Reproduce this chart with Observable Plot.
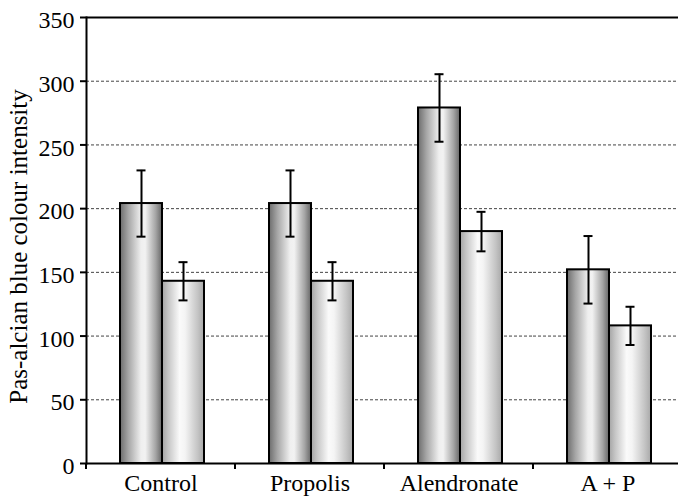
<!DOCTYPE html>
<html><head><meta charset="utf-8">
<script src="https://cdn.jsdelivr.net/npm/d3@7"></script>
<script src="https://cdn.jsdelivr.net/npm/@observablehq/plot@0.6"></script>
<style>body{margin:0;background:#fff;overflow:hidden}</style>
</head><body><div id="chart"></div>
<script>
const categories = ["Control", "Propolis", "Alendronate", "A + P"];
const series = ["Series 1", "Series 2"];
const series1Values = [204, 204, 279, 152];
const series1Errors = [26, 26, 26.5, 26.5];
const series2Values = [143, 143, 182, 108];
const series2Errors = [15, 15, 15.5, 15];
const yTicks = [0, 50, 100, 150, 200, 250, 300, 350];
const gridTicks = [50, 100, 150, 200, 250, 300];
const yLabel = "Pas-alcian blue colour intensity";

const data = categories.flatMap((c, i) => [
  {category: c, series: series[0], value: series1Values[i], err: series1Errors[i]},
  {category: c, series: series[1], value: series2Values[i], err: series2Errors[i]}
]);
data.forEach(d => { d.lo = d.value - d.err; d.hi = d.value + d.err; });

const boundaryTicks = (index, scales, values, dims) => {
  const y0 = scales.y(0);
  const g = d3.create("svg:g");
  g.append("line").attr("x1", dims.marginLeft).attr("x2", dims.marginLeft)
    .attr("y1", y0).attr("y2", y0 + 6).attr("stroke", "black").attr("stroke-width", 2);
  return g.node();
};

const chart = Plot.plot({
  width: 678, height: 501,
  marginTop: 17, marginBottom: 38, marginLeft: 84, marginRight: -5,
  style: {fontFamily: "'Liberation Serif','Times New Roman',serif", fontSize: "24px", background: "white", color: "black"},
  fx: {domain: categories, padding: 0, label: null},
  x: {domain: series, paddingInner: 0, paddingOuter: 0.74, align: 0.53, axis: null},
  y: {domain: [0, 350], label: null},
  marks: [
    Plot.gridY(gridTicks, {stroke: "#444", strokeOpacity: 1, strokeDasharray: "3,2"}),
    Plot.barY(data.filter(d => d.series === series[0]), {fx: "category", x: "series", y: "value", fill: "url(#gradDark)", stroke: "black", strokeWidth: 2}),
    Plot.barY(data.filter(d => d.series === series[1]), {fx: "category", x: "series", y: "value", fill: "url(#gradLight)", stroke: "black", strokeWidth: 2}),
    Plot.ruleX(data, {fx: "category", x: "series", y1: "lo", y2: "hi", stroke: "black", strokeWidth: 2}),
    Plot.tickY(data, {fx: "category", x: "series", y: "lo", stroke: "black", strokeWidth: 2, insetLeft: 16.5, insetRight: 16.5}),
    Plot.tickY(data, {fx: "category", x: "series", y: "hi", stroke: "black", strokeWidth: 2, insetLeft: 16.5, insetRight: 16.5}),
    Plot.ruleY([0], {stroke: "black", strokeWidth: 2}),
    Plot.ruleY([350], {stroke: "black", strokeWidth: 2}),
    Plot.frame({anchor: "left", facetAnchor: "left", stroke: "black", strokeWidth: 2}),
    boundaryTicks,
    Plot.axisY(yTicks, {anchor: "left", tickSize: 6, strokeWidth: 2, tickFormat: () => "", label: null}),
    Plot.axisY(yTicks, {anchor: "left", tickSize: 0, tickPadding: 12, dy: 3, label: null}),
    Plot.text([yLabel], {frameAnchor: "left", rotate: -90, textAnchor: "middle", lineAnchor: "top", dx: -77, dy: 6, fontSize: 25, facetAnchor: "left"}),
    Plot.axisFx({anchor: "bottom", tickSize: 0, tickPadding: 10, label: null})
  ]
});

const defs = d3.select(chart).insert("defs", ":first-child");
function grad(id, stops) {
  const g = defs.append("linearGradient").attr("id", id).attr("x1", 0).attr("x2", 1).attr("y1", 0).attr("y2", 0);
  stops.forEach(([o, c]) => g.append("stop").attr("offset", o).attr("stop-color", c));
}
grad("gradDark", [[0, "#6c6c6c"], [0.2, "#a6a6a6"], [0.5, "#efefef"], [0.6, "#f2f2f2"], [0.85, "#a4a4a4"], [1, "#666"]]);
grad("gradLight", [[0, "#a4a4a4"], [0.15, "#c6c6c6"], [0.42, "#fafafa"], [0.55, "#f4f4f4"], [0.85, "#c4c4c4"], [1, "#a8a8a8"]]);

document.getElementById("chart").appendChild(chart);
</script>
</body></html>
